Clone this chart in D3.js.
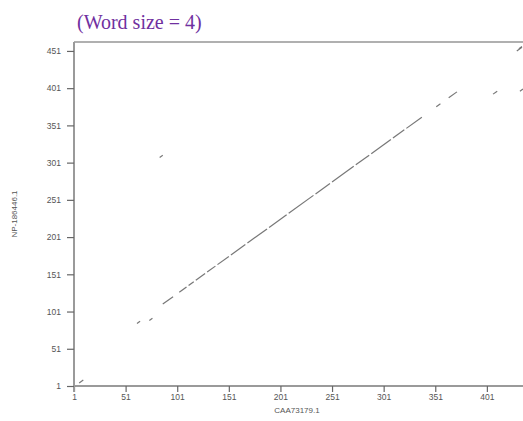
<!DOCTYPE html>
<html>
<head>
<meta charset="utf-8">
<script src="https://cdn.jsdelivr.net/npm/d3@7/dist/d3.min.js"></script>
<style>
  html, body { margin: 0; padding: 0; background: #fff; }
  svg { display: block; }
  .tick text { font-family: "Liberation Sans", Arial, sans-serif; font-size: 8.5px; fill: #555; }
</style>
</head>
<body>
<svg id="chart" width="523" height="421"></svg>
<script>
// Dot plot of two protein sequences: each match is a diagonal run
// starting at (xStart, yStart) in residue coordinates, running `runLength` residues.
const xStart    = [6, 62, 74, 87, 103, 112, 119, 130, 140, 153, 169, 190, 209, 235, 251, 274, 289, 310, 323, 352, 364, 84, 407, 433, 430, 432];
const yStart    = [5, 85, 89, 111, 127, 136, 143, 154, 164, 177, 193, 214, 233, 259, 275, 298, 313, 334, 347, 376, 388, 308, 393, 397, 451, 454];
const runLength = [4, 3, 3, 10, 7, 5, 9, 8, 11, 14, 19, 17, 24, 14, 21, 13, 19, 11, 15, 4, 8, 3, 4, 3, 5, 3];

const xTicks = [1, 51, 101, 151, 201, 251, 301, 351, 401];
const yTicks = [1, 51, 101, 151, 201, 251, 301, 351, 401, 451];

const xName = "CAA73179.1";
const yName = "NP-186446.1";
const title = "(Word size = 4)";

const svg = d3.select("#chart");

const x = d3.scaleLinear().domain([1, 436]).range([74, 523]);
const y = d3.scaleLinear().domain([1, 463]).range([386, 42]);

// title
svg.append("text")
  .attr("x", 77).attr("y", 29)
  .attr("font-family", "'Liberation Serif', 'Times New Roman', serif")
  .attr("font-size", 20)
  .attr("fill", "#7030a0")
  .text(title);

// top frame line
svg.append("line")
  .attr("x1", x(1)).attr("x2", 523)
  .attr("y1", y(463)).attr("y2", y(463))
  .attr("stroke", "#b0b0b0").attr("stroke-width", 2);

// axes
const xAxis = d3.axisBottom(x).tickValues(xTicks).tickSize(6).tickPadding(2).tickFormat(d3.format("d"));
const yAxis = d3.axisLeft(y).tickValues(yTicks).tickSize(7).tickPadding(6).tickFormat(d3.format("d"));

const gx = svg.append("g").attr("transform", `translate(0,${y(1)})`).call(xAxis);
const gy = svg.append("g").attr("transform", `translate(${x(1)},0)`).call(yAxis);

[gx, gy].forEach(g => {
  g.select(".domain").attr("stroke", "#9a9a9a").attr("stroke-width", 2);
  g.selectAll(".tick line").attr("stroke", "#666").attr("stroke-width", 1.2);
});
gx.select(".domain").attr("d", `M${x(1)},0H523`);
gy.select(".domain").attr("d", `M0,${y(463)}V${y(1) + 6}`);

// axis names
svg.append("text")
  .attr("x", 297).attr("y", 413)
  .attr("text-anchor", "middle")
  .attr("font-family", "'Liberation Sans', Arial, sans-serif")
  .attr("font-size", 8).attr("fill", "#555")
  .text(xName);

svg.append("text")
  .attr("transform", `translate(17,${(y(1) + y(463)) / 2}) rotate(-90)`)
  .attr("text-anchor", "middle")
  .attr("font-family", "'Liberation Sans', Arial, sans-serif")
  .attr("font-size", 8).attr("fill", "#555")
  .text(yName);

// match runs
const runs = xStart.map((xs, i) => ({ xs, ys: yStart[i], len: runLength[i] }));
svg.append("g")
  .selectAll("line")
  .data(runs)
  .join("line")
  .attr("x1", d => x(d.xs)).attr("y1", d => y(d.ys))
  .attr("x2", d => x(d.xs + d.len)).attr("y2", d => y(d.ys + d.len))
  .attr("stroke", "#777")
  .attr("stroke-width", 1.2)
  .attr("stroke-linecap", "butt");
</script>
</body>
</html>
